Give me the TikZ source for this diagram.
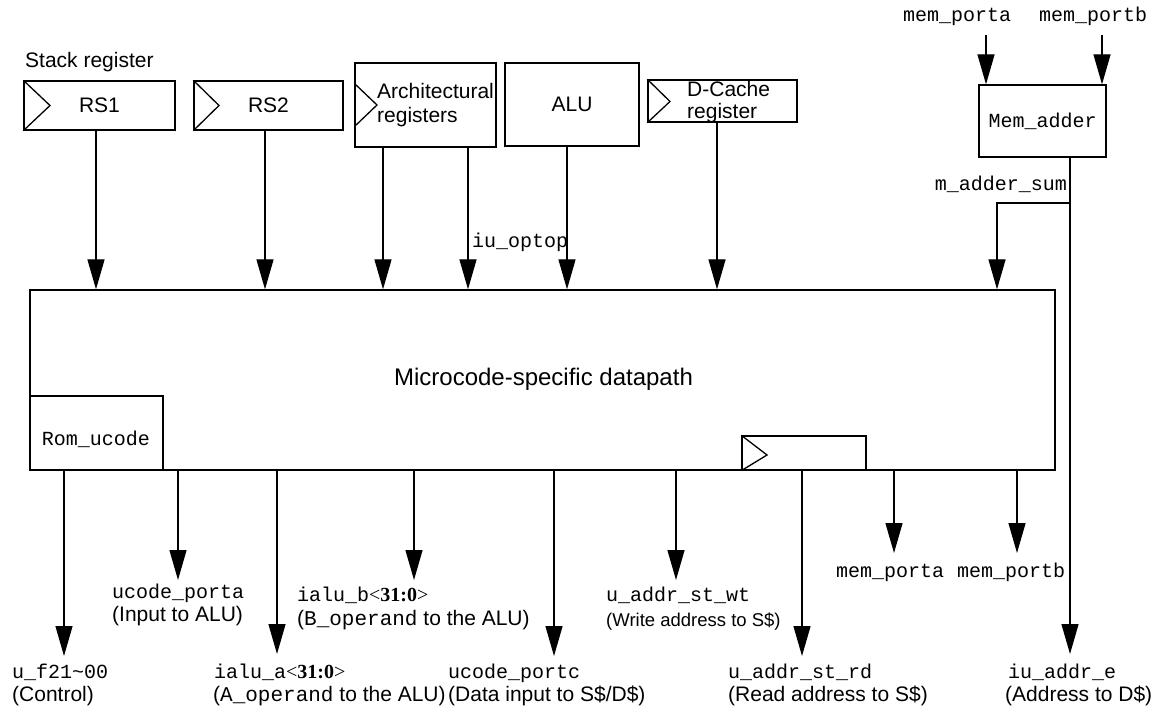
\documentclass[tikz,border=0pt]{standalone}
\usepackage{fontspec}
\setmainfont{Liberation Sans}
\setmonofont{Liberation Mono}
\newfontfamily\busfont{Liberation Serif}
\usetikzlibrary{arrows.meta}
% bus width suffix such as <31:0>
\newcommand\buswidth[1]{{\busfont<\textbf{#1}>}}

\begin{document}
\begin{tikzpicture}[x=1pt,y=-1pt,
  box/.style={draw, line width=1.3pt, rectangle, inner sep=0pt},
  sf/.style={font=\fontsize{21}{24}\selectfont, inner sep=0pt},
  sfsmall/.style={font=\fontsize{18.5}{22}\selectfont, inner sep=0pt},
  sfbig/.style={font=\fontsize{24}{28}\selectfont, inner sep=0pt},
  tt/.style={font=\fontsize{20}{23}\selectfont\ttfamily, inner sep=0pt},
  wire/.style={line width=1.3pt},
  clk/.style={line width=1.3pt, line join=miter},
  arr/.style={wire, -{Triangle[width=17pt,length=30pt]}}]

\fill[white] (0,0) rectangle (1169,708);
\useasboundingbox (0,0) rectangle (1169,708);

% ---------- top row of registers and units ----------
\node[sf, anchor=base west] (stacklbl) at (25,68) {Stack register};

\node[box, minimum width=151pt, minimum height=49pt, sf] (rs1) at (99.5,105.5) {RS1};
\draw[clk] (rs1.north west) -- (50,105.5) -- (rs1.south west);

\node[box, minimum width=149pt, minimum height=49pt, sf] (rs2) at (268.5,105.5) {RS2};
\draw[clk] (rs2.north west) -- (219,105.5) -- (rs2.south west);

\node[box, minimum width=141pt, minimum height=84pt] (arch) at (425.5,105) {};
\draw[clk] (355,84) -- (377,105) -- (355,126);
\node[sf, anchor=base west] (archA) at (377,99) {Architectural};
\node[sf, anchor=base west] (archB) at (377,123) {registers};

\node[box, minimum width=134pt, minimum height=83pt, sf] (alu) at (572,104.5) {ALU};

\node[box, minimum width=149pt, minimum height=42pt] (dc) at (722.5,101) {};
\draw[clk] (dc.north west) -- (670,101.5) -- (dc.south west);
\node[sf, anchor=base west] (dcA) at (687,97) {D-Cache};
\node[sf, anchor=base west] (dcB) at (687,119) {register};

% ---------- memory address adder ----------
\node[tt, anchor=base west] (mpaIn) at (903,22) {mem\_porta};
\node[tt, anchor=base west] (mpbIn) at (1039,22) {mem\_portb};
\node[box, minimum width=127pt, minimum height=72pt, tt] (madd) at (1042.5,121) {Mem\_adder};
\coordinate (mpaTop) at (986,35);
\coordinate (mpbTop) at (1102,35);
\draw[arr] (mpaTop) -- (mpaTop |- madd.north);
\draw[arr] (mpbTop) -- (mpbTop |- madd.north);

% ---------- datapath block ----------
\node[box, minimum width=1025pt, minimum height=180pt] (main) at (542.5,380) {};
\node[sfbig, anchor=base] (mainlbl) at (543.5,385) {Microcode-specific datapath};

\node[box, minimum width=133pt, minimum height=74pt] (rom) at (96.5,433) {};
\node[tt] (romlbl) at (96,439) {Rom\_ucode};

\node[box, minimum width=124pt, minimum height=34pt] (sreg) at (804,453) {};
\draw[clk] (sreg.north west) -- (767,455) -- (sreg.south west);

% ---------- inputs to the datapath ----------
\draw[arr] (96,0 |- rs1.south) -- (96,0 |- main.north);
\draw[arr] (265,0 |- rs2.south) -- (265,0 |- main.north);
\draw[arr] (383,0 |- arch.south) -- (383,0 |- main.north);
\draw[arr] (468,0 |- arch.south) -- (468,0 |- main.north);
\node[tt, anchor=base west] (optop) at (472,248) {iu\_optop};
\draw[arr] (567,0 |- alu.south) -- (567,0 |- main.north);
\draw[arr] (717,0 |- dc.south) -- (717,0 |- main.north);

\coordinate (sumJ) at (1070,203);
\node[tt, anchor=base east] (sumlbl) at (1067,191) {m\_adder\_sum};
\draw[wire] (sumJ |- madd.south) -- (sumJ);
\draw[arr] (sumJ) -- (997,203) -- (997,0 |- main.north);

% ---------- outputs of the datapath ----------
\coordinate (tF) at (64,656);
\coordinate (tPA) at (178,580);
\coordinate (tA) at (277,654);
\coordinate (tB) at (414,580);
\coordinate (tPC) at (554,656);
\coordinate (tWT) at (676,580);
\coordinate (tRD) at (802,656);
\coordinate (tMA) at (894,553);
\coordinate (tMB) at (1017,553);
\coordinate (tE) at (1070,654);

\draw[arr] (tF |- rom.south) -- (tF);
\draw[arr] (tPA |- main.south) -- (tPA);
\draw[arr] (tA |- main.south) -- (tA);
\draw[arr] (tB |- main.south) -- (tB);
\draw[arr] (tPC |- main.south) -- (tPC);
\draw[arr] (tWT |- main.south) -- (tWT);
\draw[arr] (tRD |- sreg.south) -- (tRD);
\draw[arr] (tMA |- main.south) -- (tMA);
\draw[arr] (tMB |- main.south) -- (tMB);
\draw[arr] (sumJ) -- (tE);

% ---------- output labels ----------
\node[tt, anchor=base west] (lF1) at (12,678) {u\_f21\textasciitilde00};
\node[sf, anchor=base west] (lF2) at (12,701) {(Control)};

\node[tt, anchor=base west] (lPA1) at (112,598) {ucode\_porta};
\node[sf, anchor=base west] (lPA2) at (112,621) {(Input to ALU)};

\node[tt, anchor=base west] (lA1) at (214,678) {ialu\_a\buswidth{31:0}};
\node[sf, anchor=base west] (lA2) at (213,701) {(\texttt{A\_operand} to the ALU)};

\node[tt, anchor=base west] (lB1) at (297,601) {ialu\_b\buswidth{31:0}};
\node[sf, anchor=base west] (lB2) at (297,625) {(\texttt{B\_operand} to the ALU)};

\node[tt, anchor=base west] (lPC1) at (448,678) {ucode\_portc};
\node[sf, anchor=base west] (lPC2) at (448,701) {(Data input to S\$/D\$)};

\node[tt, anchor=base west] (lWT1) at (606,601) {u\_addr\_st\_wt};
\node[sfsmall, anchor=base west] (lWT2) at (606,626) {(Write address to S\$)};

\node[tt, anchor=base west] (lRD1) at (728,678) {u\_addr\_st\_rd};
\node[sf, anchor=base west] (lRD2) at (728,701) {(Read address to S\$)};

\node[tt, anchor=base west] (lMA) at (836,577) {mem\_porta};
\node[tt, anchor=base west] (lMB) at (957,577) {mem\_portb};

\node[tt, anchor=base west] (lE1) at (1008,678) {iu\_addr\_e};
\node[sf, anchor=base west] (lE2) at (1005,701) {(Address to D\$)};
\end{tikzpicture}
\end{document}
